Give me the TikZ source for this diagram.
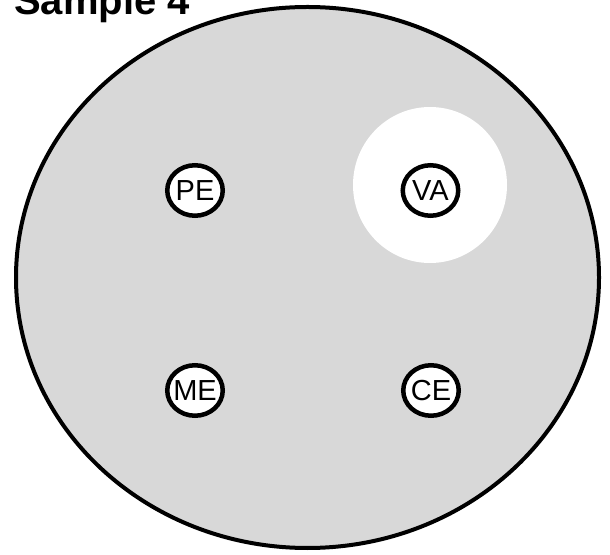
\documentclass[tikz,border=0pt]{standalone}
\usepackage{fontspec}
\setmainfont{Liberation Sans}
\usetikzlibrary{shapes.geometric}
\definecolor{dishgray}{RGB}{216,216,216}
\newcommand{\welltext}[1]{\makebox[0pt]{#1}}
\tikzset{
  well/.style={ellipse, draw=black, line width=4.5pt, fill=white,
    minimum width=55.5pt, minimum height=50.5pt, inner sep=0pt,
    font=\fontsize{29}{31}\selectfont},
  dish/.style={ellipse, draw=black, line width=4pt, fill=dishgray,
    minimum width=583pt, minimum height=541pt, inner sep=0pt},
  halo/.style={ellipse, fill=white, minimum width=154pt, minimum height=156pt, inner sep=0pt},
  title/.style={font=\bfseries\fontsize{40}{44}\selectfont, inner sep=0pt, anchor=base west}
}
\begin{document}
\begin{tikzpicture}[x=1pt,y=1pt]
\useasboundingbox (0,0) rectangle (610,554);
\node[dish] (dish) at (307.5,276.5) {};
\node[halo] (halo) at (430,369) {};
\node[well] (PE) at (195,363.5) {\welltext{PE}};
\node[well] (VA) at (430.5,363.5) {\welltext{VA}};
\node[well] (ME) at (195,163.5) {\welltext{ME}};
\node[well] (CE) at (431,163.5) {\welltext{CE}};
\node[title] (ttl) at (14,539) {Sample 4};
\end{tikzpicture}
\end{document}
